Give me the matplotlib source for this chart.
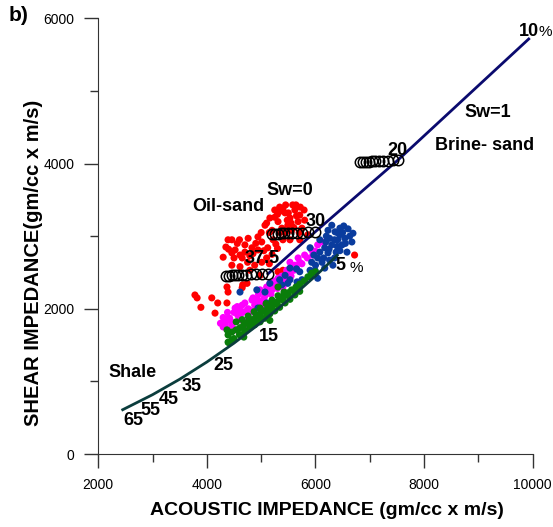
import numpy as np
import matplotlib
matplotlib.use('Agg')
import matplotlib.pyplot as plt
from matplotlib.ticker import MultipleLocator

plt.rcParams['font.family'] = ['Liberation Sans', 'DejaVu Sans']

# log samples (acoustic impedance, shear impedance)
red_pts = [(5250,3360),(5340,3400),(5440,3320),(5530,3250),(5620,3360),(5710,3290),(5680,3200),
           (5490,3150),(5310,3200),(5160,3250),(5380,3110),(5560,3080),(5750,3110),(5070,3150),
           (5200,3080),(5790,3360),(5640,3430),(5450,3430),(5250,3260),(4940,2990),(5010,2920),
           (4830,2840),(4700,2880),(4610,2740),(4520,2810),(4390,2950),(4460,2950),(4350,2850),
           (4300,2710),(4460,2770),(4650,2700),(4790,2730),(4940,2810),(5100,2700),(5120,2840),
           (5220,2950),(4610,2580),(4460,2600),(4880,2600),(5010,2640),(5270,2890),(5400,2950),
           (4760,2970),(3780,2190),(3820,2150),(4090,2150),(3890,2020),(4200,2080),(4370,2080),
           (4150,1940),(4370,2300),(4660,2330),(4740,2350),(4390,2230),(4650,2290),(6720,2740),
           (5310,2510),(5400,2530),(4980,2460),(4790,2530),(5710,2950),(5530,2950),(5800,3220),
           (5860,3020),(5300,3300),(5400,3380),(5500,3320),(5550,3180),(5650,3280),(5720,3400),
           (5100,3180),(5150,3050),(5350,3050),(5450,3050),(5600,3120),(5700,3050),(5000,3050),
           (4900,2900),(4850,2760),(4560,2900),(4500,2700),(4700,2780),(5050,2800),(5150,2620),
           (4750,2640),(4400,2820),(5200,2750),(5300,2830),(4600,2950),(5480,3220),(5340,3340),
           (5580,3430)]
magenta_pts = [(4330,1820),(4390,1870),(4460,1780),(4570,1910),(4610,1850),(4700,1960),(4790,1980),
               (4760,1870),(4880,2050),(4940,2120),(5010,2080),(5070,2180),(5120,2230),(5200,2260),
               (5250,2330),(5340,2370),(5440,2420),(5530,2510),(5620,2600),(5680,2700),(5800,2740),
               (5930,2810),(6040,2880),(6120,2920),(4390,1710),(4520,2010),(4650,2050),(4830,2120),
               (4980,2260),(5160,2350),(5310,2420),(5470,2530),(4300,1750),(4700,1750),(4520,1710),
               (5010,1980),(5710,2640),(5530,2640),(4420,1870),(4830,1960),(4610,1980),(5400,2300),
               (5070,2050),(4300,1880),(4380,1950),(4450,1820),(4500,1950),(4560,2030),(4620,1920),
               (4700,2080),(4760,2000),(4850,2150),(4900,2060),(4950,2200),(5050,2140),(5100,2300),
               (5180,2200),(5250,2380),(5300,2280),(5380,2450),(5460,2360),(5550,2450),(5600,2530),
               (5650,2560),(5750,2620),(5850,2700),(5950,2740),(6000,2790),(4250,1800),(4340,1780)]
blue_pts = [(4610,2230),(4920,2260),(5070,2230),(5100,2080),(4940,2010),(5160,2350),(5380,2330),
            (5490,2350),(5660,2370),(6450,3110),(6360,3060),(6260,2970),(6410,2950),(6490,2880),
            (6300,2880),(6170,2840),(6080,2780),(6230,2770),(6380,2780),(6040,2700),(5930,2640),
            (6120,2640),(6260,2670),(5900,2530),(5710,2510),(5990,2530),
            (6170,2560),(6450,3020),(6540,2970),(6230,3080),(6080,2950),(5900,2840),
            (5530,2560),(5440,2460),(6630,3000),(6670,2920),(6580,2780),(5530,2400),
            (5750,2400),(5340,2400),(6320,2600),(6040,2420),(6690,3040),(6520,3140),(6190,2920),
            (5970,2740),(6200,3000),(6350,2950),(6400,3050),(6300,3150),
            (6500,3050),(6550,2900),(6450,2800),(6250,2820),(6150,2700),(6350,2700),(6000,2600),
            (5650,2550),(6600,3100),(6400,2860)]
green_pts = [(4390,1640),(4460,1680),(4540,1710),(4610,1740),(4680,1780),(4760,1820),(4830,1850),
             (4900,1890),(4980,1930),(5050,1970),(5120,2010),(5200,2050),(5270,2090),(5340,2130),
             (5420,2180),(5490,2220),(5560,2260),(5640,2300),(5710,2340),(5790,2380),(5860,2440),
             (5930,2490),(4610,1640),(4700,1690),(4790,1740),(4880,1780),(4980,1820),(5070,1870),
             (5160,1930),(5250,1970),(5340,2020),(5440,2080),(5530,2130),(5620,2190),(5710,2240),
             (4540,1820),(4650,1850),(4760,1900),(4870,1960),(4980,2010),(5090,2070),(5200,2120),
             (5310,2180),(5420,2230),(4390,1540),(4370,1710),(5310,2300),(5160,1840),(4460,1570),
             (4680,1610),(4400,1535),(4500,1590),(4600,1645),(4700,1700),(4800,1760),(4900,1815),
             (5000,1870),(5100,1930),(5200,1995),(5300,2055),(5400,2120),(5500,2180),(5600,2245),
             (5700,2310),(5800,2380),(5900,2445),(6000,2510)]

# fluid substitution points, Sw = 0 ... 1, at porosity 37.5, 30 and 20 %
sub_375_x = [4351,4406,4461,4516,4571,4645,4718,4811,4903,5013,5124]
sub_375_y = [2455,2457,2460,2462,2465,2467,2470,2472,2475,2477,2480]
sub_30_x = [5197,5252,5308,5363,5418,5492,5565,5657,5749,5860,5988]
sub_30_y = [3030,3032,3035,3037,3040,3042,3045,3047,3050,3052,3055]
sub_20_x = [6815,6870,6925,6980,7036,7091,7165,7238,7330,7422,7514]
sub_20_y = [4020,4022,4025,4027,4030,4032,4035,4037,4040,4042,4045]

# brine sand trend (Sw=1) and shale/sand porosity trend
brine_x = [5124, 5988, 7514, 9927]
brine_y = [2480, 3055, 4045, 5715]
shale_x = [2450, 3000, 3500, 4000, 4500, 5000, 5500, 6000, 6400]
shale_y = [610, 817, 1030, 1267, 1527, 1812, 2120, 2452, 2735]

fig = plt.figure(figsize=(5.53, 5.27), dpi=100)
ax = fig.add_axes([0.1777, 0.1385, 0.7856, 0.8268])

for pts, clr in [(red_pts, '#ff0000'), (magenta_pts, '#ff00ff'),
                 (blue_pts, '#0a3c9e'), (green_pts, '#0a7d0a')]:
    p = np.array(pts)
    ax.scatter(p[:, 0], p[:, 1], s=26, c=clr, edgecolors='none', zorder=2)

ax.plot(shale_x, shale_y, color='#0b3d3d', lw=2.0, zorder=3)
ax.plot(brine_x, brine_y, color='#0a0a6e', lw=2.0, zorder=3)

for sx, sy in [(sub_375_x, sub_375_y), (sub_30_x, sub_30_y), (sub_20_x, sub_20_y)]:
    ax.plot(sx, sy, ls='none', marker='o', ms=7.5, mfc='none', mec='black', mew=1.1, zorder=4)

lab = dict(fontsize=13, fontweight='bold', ha='center', va='center', zorder=5)
ax.text(9927, 5815, '10', **lab)
ax.text(10231, 5811, '%', fontsize=11, ha='center', va='center')
ax.text(9176, 4696, 'Sw=1', **lab)
ax.text(9120, 4255, 'Brine- sand', **lab)
ax.text(7514, 4186, '20', **lab)
ax.text(5528, 3635, 'Sw=0', **lab)
ax.text(4388, 3415, 'Oil-sand', **lab)
ax.text(6007, 3195, '30', **lab)
ax.text(5013, 2699, '37.5', **lab)
ax.text(6466, 2593, '5', **lab)
ax.text(6744, 2557, '%', fontsize=11, ha='center', va='center')
ax.text(5142, 1625, '15', **lab)
ax.text(2622, 1129, 'Shale', **lab)
ax.text(4296, 1212, '25', **lab)
ax.text(3727, 936, '35', **lab)
ax.text(3299, 744, '45', **lab)
ax.text(2955, 606, '55', **lab)
ax.text(2640, 468, '65', **lab)

ax.set_xlim(2000, 10000)
ax.set_ylim(0, 6000)
ax.xaxis.set_major_locator(MultipleLocator(2000))
ax.xaxis.set_minor_locator(MultipleLocator(1000))
ax.yaxis.set_major_locator(MultipleLocator(2000))
ax.yaxis.set_minor_locator(MultipleLocator(1000))
ax.tick_params(which='major', length=10, width=1, pad=7, labelsize=10, color='#333333')
ax.tick_params(which='minor', length=5.5, width=1, color='#333333')
for s in ['top', 'right']:
    ax.spines[s].set_visible(False)
for s in ['left', 'bottom']:
    ax.spines[s].set_color('#333333')

ax.set_xlabel('ACOUSTIC IMPEDANCE (gm/cc x m/s)', fontsize=14, fontweight='bold')
ax.set_ylabel('SHEAR IMPEDANCE(gm/cc x m/s)', fontsize=14.5, fontweight='bold')
ax.xaxis.set_label_coords(0.527, -0.110)
ax.yaxis.set_label_coords(-0.127, 0.438)

fig.text(0.034, 0.970, 'b)', fontsize=15, fontweight='bold', ha='center', va='center')

plt.savefig('out.png', dpi=100)
